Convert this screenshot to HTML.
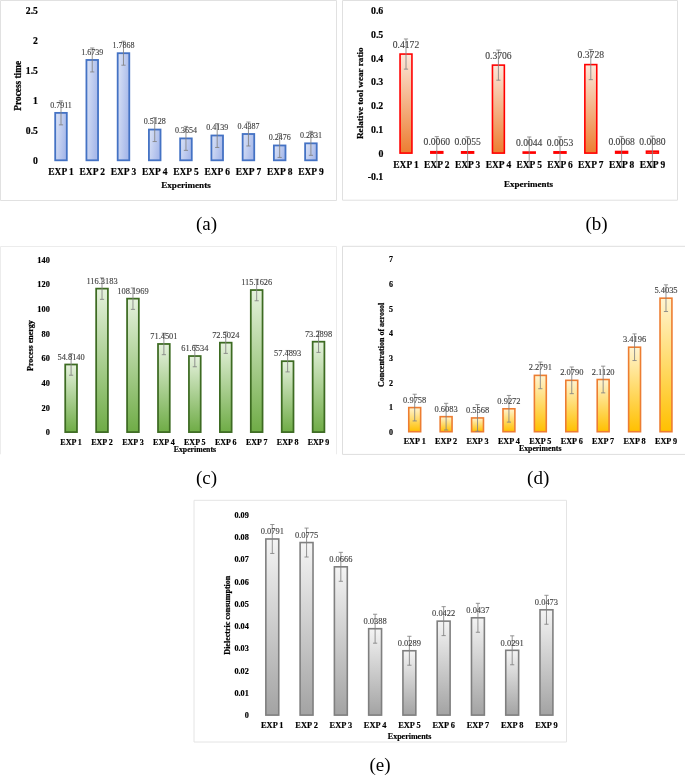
<!DOCTYPE html>
<html lang="en"><head><meta charset="utf-8"><title>Figure</title>
<style>
html,body{margin:0;padding:0;background:#fff;}
svg{display:block;will-change:transform;}
text{font-family:"Liberation Serif", "DejaVu Serif", serif;}
.b{font-weight:bold;fill:#000;stroke:#000;stroke-width:0.18px;}
.yt{stroke-width:0.22px;}
.dl{fill:#404040;stroke:#404040;stroke-width:0.12px;}
.cap{fill:#000;}
</style></head>
<body>
<svg width="685" height="775" viewBox="0 0 685 775">
<rect x="0" y="0" width="685" height="775" fill="#ffffff"/>
<defs>
<linearGradient id="ga" x1="0" y1="0" x2="1" y2="0.35"><stop offset="0" stop-color="#dce4f6"/><stop offset="1" stop-color="#a9baea"/></linearGradient>
<linearGradient id="gb" x1="0" y1="0" x2="0" y2="1"><stop offset="0" stop-color="#fbe7da"/><stop offset="1" stop-color="#ed7d31"/></linearGradient>
<linearGradient id="gc" x1="0" y1="0" x2="0" y2="1"><stop offset="0" stop-color="#e6f2de"/><stop offset="1" stop-color="#6fac46"/></linearGradient>
<linearGradient id="gd" x1="0" y1="0" x2="0" y2="1"><stop offset="0" stop-color="#fff4d1"/><stop offset="1" stop-color="#ffc000"/></linearGradient>
<linearGradient id="ge" x1="0" y1="0" x2="0" y2="1"><stop offset="0" stop-color="#f4f4f4"/><stop offset="1" stop-color="#a3a3a3"/></linearGradient>
</defs>
<g id="chart-a">
<path d="M0.5 200.5 L0.5 0.5 L336.5 0.5 L336.5 200.5 Z" fill="none" stroke="#e1e1e1" stroke-width="1"/>
<text class="b" x="37.9" y="163.9" font-size="9.7" text-anchor="end">0</text>
<text class="b" x="37.9" y="133.93" font-size="9.7" text-anchor="end">0.5</text>
<text class="b" x="37.9" y="103.96" font-size="9.7" text-anchor="end">1</text>
<text class="b" x="37.9" y="73.99" font-size="9.7" text-anchor="end">1.5</text>
<text class="b" x="37.9" y="44.02" font-size="9.7" text-anchor="end">2</text>
<text class="b" x="37.9" y="14.05" font-size="9.7" text-anchor="end">2.5</text>
<text class="b yt" font-size="9.3" text-anchor="middle" transform="translate(20.6 85.8) rotate(-90)">Process time</text>
<rect x="55.2" y="112.88" width="11.6" height="47.42" fill="url(#ga)" stroke="#4472c4" stroke-width="1.8"/>
<rect x="86.44" y="59.97" width="11.6" height="100.33" fill="url(#ga)" stroke="#4472c4" stroke-width="1.8"/>
<rect x="117.68" y="53.2" width="11.6" height="107.1" fill="url(#ga)" stroke="#4472c4" stroke-width="1.8"/>
<rect x="148.92" y="129.56" width="11.6" height="30.74" fill="url(#ga)" stroke="#4472c4" stroke-width="1.8"/>
<rect x="180.16" y="138.4" width="11.6" height="21.9" fill="url(#ga)" stroke="#4472c4" stroke-width="1.8"/>
<rect x="211.4" y="135.49" width="11.6" height="24.81" fill="url(#ga)" stroke="#4472c4" stroke-width="1.8"/>
<rect x="242.64" y="134" width="11.6" height="26.3" fill="url(#ga)" stroke="#4472c4" stroke-width="1.8"/>
<rect x="273.88" y="145.46" width="11.6" height="14.84" fill="url(#ga)" stroke="#4472c4" stroke-width="1.8"/>
<rect x="305.12" y="143.33" width="11.6" height="16.97" fill="url(#ga)" stroke="#4472c4" stroke-width="1.8"/>
<path d="M61 100.89 V124.87 M58.9 100.89 H63.1 M58.9 124.87 H63.1" fill="none" stroke="#828282" stroke-width="0.85"/>
<path d="M92.24 47.98 V71.95 M90.14 47.98 H94.34 M90.14 71.95 H94.34" fill="none" stroke="#828282" stroke-width="0.85"/>
<path d="M123.48 41.21 V65.19 M121.38 41.21 H125.58 M121.38 65.19 H125.58" fill="none" stroke="#828282" stroke-width="0.85"/>
<path d="M154.72 117.57 V141.55 M152.62 117.57 H156.82 M152.62 141.55 H156.82" fill="none" stroke="#828282" stroke-width="0.85"/>
<path d="M185.96 126.41 V150.39 M183.86 126.41 H188.06 M183.86 150.39 H188.06" fill="none" stroke="#828282" stroke-width="0.85"/>
<path d="M217.2 123.5 V147.48 M215.1 123.5 H219.3 M215.1 147.48 H219.3" fill="none" stroke="#828282" stroke-width="0.85"/>
<path d="M248.44 122.02 V145.99 M246.34 122.02 H250.54 M246.34 145.99 H250.54" fill="none" stroke="#828282" stroke-width="0.85"/>
<path d="M279.68 133.47 V157.45 M277.58 133.47 H281.78 M277.58 157.45 H281.78" fill="none" stroke="#828282" stroke-width="0.85"/>
<path d="M310.92 131.34 V155.32 M308.82 131.34 H313.02 M308.82 155.32 H313.02" fill="none" stroke="#828282" stroke-width="0.85"/>
<text class="dl" x="61" y="107.52" font-size="8" text-anchor="middle">0.7911</text>
<text class="dl" x="92.24" y="54.61" font-size="8" text-anchor="middle">1.6739</text>
<text class="dl" x="123.48" y="47.84" font-size="8" text-anchor="middle">1.7868</text>
<text class="dl" x="154.72" y="124.2" font-size="8" text-anchor="middle">0.5128</text>
<text class="dl" x="185.96" y="133.04" font-size="8" text-anchor="middle">0.3654</text>
<text class="dl" x="217.2" y="130.13" font-size="8" text-anchor="middle">0.4139</text>
<text class="dl" x="248.44" y="128.64" font-size="8" text-anchor="middle">0.4387</text>
<text class="dl" x="279.68" y="140.1" font-size="8" text-anchor="middle">0.2476</text>
<text class="dl" x="310.92" y="137.97" font-size="8" text-anchor="middle">0.2831</text>
<text class="b" x="61" y="174.62" font-size="9.45" text-anchor="middle">EXP 1</text>
<text class="b" x="92.24" y="174.62" font-size="9.45" text-anchor="middle">EXP 2</text>
<text class="b" x="123.48" y="174.62" font-size="9.45" text-anchor="middle">EXP 3</text>
<text class="b" x="154.72" y="174.62" font-size="9.45" text-anchor="middle">EXP 4</text>
<text class="b" x="185.96" y="174.62" font-size="9.45" text-anchor="middle">EXP 5</text>
<text class="b" x="217.2" y="174.62" font-size="9.45" text-anchor="middle">EXP 6</text>
<text class="b" x="248.44" y="174.62" font-size="9.45" text-anchor="middle">EXP 7</text>
<text class="b" x="279.68" y="174.62" font-size="9.45" text-anchor="middle">EXP 8</text>
<text class="b" x="310.92" y="174.62" font-size="9.45" text-anchor="middle">EXP 9</text>
<text class="b" x="186" y="187.69" font-size="9.1" text-anchor="middle">Experiments</text>
<text class="cap" x="206.5" y="230.2" font-size="19" text-anchor="middle">(a)</text>
</g>
<g id="chart-b">
<path d="M342.5 200.2 L342.5 0.5 L677.5 0.5 L677.5 200.2 Z" fill="none" stroke="#e0e0e0" stroke-width="1"/>
<text class="b" x="383.3" y="180.29" font-size="9.85" text-anchor="end">-0.1</text>
<text class="b" x="383.3" y="156.55" font-size="9.85" text-anchor="end">0</text>
<text class="b" x="383.3" y="132.81" font-size="9.85" text-anchor="end">0.1</text>
<text class="b" x="383.3" y="109.07" font-size="9.85" text-anchor="end">0.2</text>
<text class="b" x="383.3" y="85.33" font-size="9.85" text-anchor="end">0.3</text>
<text class="b" x="383.3" y="61.59" font-size="9.85" text-anchor="end">0.4</text>
<text class="b" x="383.3" y="37.85" font-size="9.85" text-anchor="end">0.5</text>
<text class="b" x="383.3" y="14.11" font-size="9.85" text-anchor="end">0.6</text>
<text class="b yt" font-size="9.17" text-anchor="middle" transform="translate(363.07 93.2) rotate(-90)">Relative tool wear ratio</text>
<rect x="400.05" y="54.06" width="11.9" height="99.04" fill="url(#gb)" stroke="#ff0000" stroke-width="1.6"/>
<rect x="430.85" y="151.68" width="11.9" height="1.42" fill="url(#gb)" stroke="#ff0000" stroke-width="1.6"/>
<rect x="461.65" y="151.79" width="11.9" height="1.31" fill="url(#gb)" stroke="#ff0000" stroke-width="1.6"/>
<rect x="492.45" y="65.12" width="11.9" height="87.98" fill="url(#gb)" stroke="#ff0000" stroke-width="1.6"/>
<rect x="523.25" y="152.06" width="11.9" height="1.04" fill="url(#gb)" stroke="#ff0000" stroke-width="1.6"/>
<rect x="554.05" y="151.84" width="11.9" height="1.26" fill="url(#gb)" stroke="#ff0000" stroke-width="1.6"/>
<rect x="584.85" y="64.6" width="11.9" height="88.5" fill="url(#gb)" stroke="#ff0000" stroke-width="1.6"/>
<rect x="615.65" y="151.49" width="11.9" height="1.61" fill="url(#gb)" stroke="#ff0000" stroke-width="1.6"/>
<rect x="646.45" y="151.2" width="11.9" height="1.9" fill="url(#gb)" stroke="#ff0000" stroke-width="1.6"/>
<path d="M406 38.98 V69.13 M403.9 38.98 H408.1 M403.9 69.13 H408.1" fill="none" stroke="#828282" stroke-width="0.85"/>
<path d="M436.8 136.6 V166.75 M434.7 136.6 H438.9 M434.7 166.75 H438.9" fill="none" stroke="#828282" stroke-width="0.85"/>
<path d="M467.6 136.72 V166.87 M465.5 136.72 H469.7 M465.5 166.87 H469.7" fill="none" stroke="#828282" stroke-width="0.85"/>
<path d="M498.4 50.04 V80.19 M496.3 50.04 H500.5 M496.3 80.19 H500.5" fill="none" stroke="#828282" stroke-width="0.85"/>
<path d="M529.2 136.98 V167.13 M527.1 136.98 H531.3 M527.1 167.13 H531.3" fill="none" stroke="#828282" stroke-width="0.85"/>
<path d="M560 136.77 V166.92 M557.9 136.77 H562.1 M557.9 166.92 H562.1" fill="none" stroke="#828282" stroke-width="0.85"/>
<path d="M590.8 49.52 V79.67 M588.7 49.52 H592.9 M588.7 79.67 H592.9" fill="none" stroke="#828282" stroke-width="0.85"/>
<path d="M621.6 136.41 V166.56 M619.5 136.41 H623.7 M619.5 166.56 H623.7" fill="none" stroke="#828282" stroke-width="0.85"/>
<path d="M652.4 136.13 V166.28 M650.3 136.13 H654.5 M650.3 166.28 H654.5" fill="none" stroke="#828282" stroke-width="0.85"/>
<text class="dl" x="406" y="47.72" font-size="9.6" text-anchor="middle">0.4172</text>
<text class="dl" x="436.8" y="145.34" font-size="9.6" text-anchor="middle">0.0060</text>
<text class="dl" x="467.6" y="145.46" font-size="9.6" text-anchor="middle">0.0055</text>
<text class="dl" x="498.4" y="58.79" font-size="9.6" text-anchor="middle">0.3706</text>
<text class="dl" x="529.2" y="145.72" font-size="9.6" text-anchor="middle">0.0044</text>
<text class="dl" x="560" y="145.51" font-size="9.6" text-anchor="middle">0.0053</text>
<text class="dl" x="590.8" y="58.27" font-size="9.6" text-anchor="middle">0.3728</text>
<text class="dl" x="621.6" y="145.15" font-size="9.6" text-anchor="middle">0.0068</text>
<text class="dl" x="652.4" y="144.87" font-size="9.6" text-anchor="middle">0.0080</text>
<text class="b" x="406" y="168.02" font-size="9.45" text-anchor="middle">EXP 1</text>
<text class="b" x="436.8" y="168.02" font-size="9.45" text-anchor="middle">EXP 2</text>
<text class="b" x="467.6" y="168.02" font-size="9.45" text-anchor="middle">EXP 3</text>
<text class="b" x="498.4" y="168.02" font-size="9.45" text-anchor="middle">EXP 4</text>
<text class="b" x="529.2" y="168.02" font-size="9.45" text-anchor="middle">EXP 5</text>
<text class="b" x="560" y="168.02" font-size="9.45" text-anchor="middle">EXP 6</text>
<text class="b" x="590.8" y="168.02" font-size="9.45" text-anchor="middle">EXP 7</text>
<text class="b" x="621.6" y="168.02" font-size="9.45" text-anchor="middle">EXP 8</text>
<text class="b" x="652.4" y="168.02" font-size="9.45" text-anchor="middle">EXP 9</text>
<text class="b" x="528.5" y="186.57" font-size="9.0" text-anchor="middle">Experiments</text>
<text class="cap" x="596.5" y="230.2" font-size="19" text-anchor="middle">(b)</text>
</g>
<g id="chart-c">
<path d="M0.5 454.3 L0.5 246.5 L336.5 246.5 L336.5 454.3" fill="none" stroke="#ececec" stroke-width="1"/>
<text class="b" x="49.8" y="435.24" font-size="8.3" text-anchor="end">0</text>
<text class="b" x="49.8" y="410.57" font-size="8.3" text-anchor="end">20</text>
<text class="b" x="49.8" y="385.9" font-size="8.3" text-anchor="end">40</text>
<text class="b" x="49.8" y="361.23" font-size="8.3" text-anchor="end">60</text>
<text class="b" x="49.8" y="336.56" font-size="8.3" text-anchor="end">80</text>
<text class="b" x="49.8" y="311.89" font-size="8.3" text-anchor="end">100</text>
<text class="b" x="49.8" y="287.22" font-size="8.3" text-anchor="end">120</text>
<text class="b" x="49.8" y="262.55" font-size="8.3" text-anchor="end">140</text>
<text class="b yt" font-size="8" text-anchor="middle" transform="translate(33.14 345.6) rotate(-90)">Process energy</text>
<rect x="65.22" y="364.49" width="11.75" height="67.61" fill="url(#gc)" stroke="#3d6b22" stroke-width="1.75"/>
<rect x="96.16" y="288.62" width="11.75" height="143.48" fill="url(#gc)" stroke="#3d6b22" stroke-width="1.75"/>
<rect x="127.08" y="298.64" width="11.75" height="133.46" fill="url(#gc)" stroke="#3d6b22" stroke-width="1.75"/>
<rect x="158.01" y="343.97" width="11.75" height="88.13" fill="url(#gc)" stroke="#3d6b22" stroke-width="1.75"/>
<rect x="188.94" y="356.05" width="11.75" height="76.05" fill="url(#gc)" stroke="#3d6b22" stroke-width="1.75"/>
<rect x="219.88" y="342.67" width="11.75" height="89.43" fill="url(#gc)" stroke="#3d6b22" stroke-width="1.75"/>
<rect x="250.8" y="290.05" width="11.75" height="142.05" fill="url(#gc)" stroke="#3d6b22" stroke-width="1.75"/>
<rect x="281.74" y="361.19" width="11.75" height="70.91" fill="url(#gc)" stroke="#3d6b22" stroke-width="1.75"/>
<rect x="312.66" y="341.7" width="11.75" height="90.4" fill="url(#gc)" stroke="#3d6b22" stroke-width="1.75"/>
<path d="M71.1 353.76 V375.22 M69 353.76 H73.2 M69 375.22 H73.2" fill="none" stroke="#828282" stroke-width="0.85"/>
<path d="M102.03 277.89 V299.35 M99.93 277.89 H104.13 M99.93 299.35 H104.13" fill="none" stroke="#828282" stroke-width="0.85"/>
<path d="M132.96 287.91 V309.37 M130.86 287.91 H135.06 M130.86 309.37 H135.06" fill="none" stroke="#828282" stroke-width="0.85"/>
<path d="M163.89 333.23 V354.7 M161.79 333.23 H165.99 M161.79 354.7 H165.99" fill="none" stroke="#828282" stroke-width="0.85"/>
<path d="M194.82 345.32 V366.78 M192.72 345.32 H196.92 M192.72 366.78 H196.92" fill="none" stroke="#828282" stroke-width="0.85"/>
<path d="M225.75 331.94 V353.4 M223.65 331.94 H227.85 M223.65 353.4 H227.85" fill="none" stroke="#828282" stroke-width="0.85"/>
<path d="M256.68 279.32 V300.78 M254.58 279.32 H258.78 M254.58 300.78 H258.78" fill="none" stroke="#828282" stroke-width="0.85"/>
<path d="M287.61 350.46 V371.92 M285.51 350.46 H289.71 M285.51 371.92 H289.71" fill="none" stroke="#828282" stroke-width="0.85"/>
<path d="M318.54 330.97 V352.43 M316.44 330.97 H320.64 M316.44 352.43 H320.64" fill="none" stroke="#828282" stroke-width="0.85"/>
<text class="dl" x="71.1" y="359.66" font-size="8.4" text-anchor="middle">54.8140</text>
<text class="dl" x="102.03" y="283.79" font-size="8.4" text-anchor="middle">116.3183</text>
<text class="dl" x="132.96" y="293.81" font-size="8.4" text-anchor="middle">108.1969</text>
<text class="dl" x="163.89" y="339.14" font-size="8.4" text-anchor="middle">71.4501</text>
<text class="dl" x="194.82" y="351.22" font-size="8.4" text-anchor="middle">61.6534</text>
<text class="dl" x="225.75" y="337.84" font-size="8.4" text-anchor="middle">72.5024</text>
<text class="dl" x="256.68" y="285.22" font-size="8.4" text-anchor="middle">115.1626</text>
<text class="dl" x="287.61" y="356.36" font-size="8.4" text-anchor="middle">57.4893</text>
<text class="dl" x="318.54" y="336.87" font-size="8.4" text-anchor="middle">73.2898</text>
<text class="b" x="71.1" y="445.34" font-size="8" text-anchor="middle">EXP 1</text>
<text class="b" x="102.03" y="445.34" font-size="8" text-anchor="middle">EXP 2</text>
<text class="b" x="132.96" y="445.34" font-size="8" text-anchor="middle">EXP 3</text>
<text class="b" x="163.89" y="445.34" font-size="8" text-anchor="middle">EXP 4</text>
<text class="b" x="194.82" y="445.34" font-size="8" text-anchor="middle">EXP 5</text>
<text class="b" x="225.75" y="445.34" font-size="8" text-anchor="middle">EXP 6</text>
<text class="b" x="256.68" y="445.34" font-size="8" text-anchor="middle">EXP 7</text>
<text class="b" x="287.61" y="445.34" font-size="8" text-anchor="middle">EXP 8</text>
<text class="b" x="318.54" y="445.34" font-size="8" text-anchor="middle">EXP 9</text>
<text class="b" x="194.9" y="452.48" font-size="7.75" text-anchor="middle">Experiments</text>
<text class="cap" x="206.5" y="484" font-size="19" text-anchor="middle">(c)</text>
</g>
<g id="chart-d">
<path d="M342.5 454.4 L342.5 246.3 L690 246.3 M690 454.4 L342.5 454.4" fill="none" stroke="#dedede" stroke-width="1"/>
<text class="b" x="392.9" y="435.14" font-size="8" text-anchor="end">0</text>
<text class="b" x="392.9" y="410.43" font-size="8" text-anchor="end">1</text>
<text class="b" x="392.9" y="385.72" font-size="8" text-anchor="end">2</text>
<text class="b" x="392.9" y="361.01" font-size="8" text-anchor="end">3</text>
<text class="b" x="392.9" y="336.3" font-size="8" text-anchor="end">4</text>
<text class="b" x="392.9" y="311.59" font-size="8" text-anchor="end">5</text>
<text class="b" x="392.9" y="286.88" font-size="8" text-anchor="end">6</text>
<text class="b" x="392.9" y="262.17" font-size="8" text-anchor="end">7</text>
<text class="b yt" font-size="8" text-anchor="middle" transform="translate(384.14 344.8) rotate(-90)">Concentration of aerosol</text>
<rect x="408.75" y="407.59" width="11.9" height="24.11" fill="url(#gd)" stroke="#ed7d31" stroke-width="1.6"/>
<rect x="440.16" y="416.67" width="11.9" height="15.03" fill="url(#gd)" stroke="#ed7d31" stroke-width="1.6"/>
<rect x="471.57" y="417.94" width="11.9" height="13.76" fill="url(#gd)" stroke="#ed7d31" stroke-width="1.6"/>
<rect x="502.98" y="408.79" width="11.9" height="22.91" fill="url(#gd)" stroke="#ed7d31" stroke-width="1.6"/>
<rect x="534.39" y="375.38" width="11.9" height="56.32" fill="url(#gd)" stroke="#ed7d31" stroke-width="1.6"/>
<rect x="565.8" y="380.33" width="11.9" height="51.37" fill="url(#gd)" stroke="#ed7d31" stroke-width="1.6"/>
<rect x="597.21" y="379.51" width="11.9" height="52.19" fill="url(#gd)" stroke="#ed7d31" stroke-width="1.6"/>
<rect x="628.62" y="347.2" width="11.9" height="84.5" fill="url(#gd)" stroke="#ed7d31" stroke-width="1.6"/>
<rect x="660.03" y="298.18" width="11.9" height="133.52" fill="url(#gd)" stroke="#ed7d31" stroke-width="1.6"/>
<path d="M414.7 394.24 V420.93 M412.6 394.24 H416.8 M412.6 420.93 H416.8" fill="none" stroke="#828282" stroke-width="0.85"/>
<path d="M446.11 403.33 V430.01 M444.01 403.33 H448.21 M444.01 430.01 H448.21" fill="none" stroke="#828282" stroke-width="0.85"/>
<path d="M477.52 404.6 V431.28 M475.42 404.6 H479.62 M475.42 431.28 H479.62" fill="none" stroke="#828282" stroke-width="0.85"/>
<path d="M508.93 395.45 V422.13 M506.83 395.45 H511.03 M506.83 422.13 H511.03" fill="none" stroke="#828282" stroke-width="0.85"/>
<path d="M540.34 362.04 V388.73 M538.24 362.04 H542.44 M538.24 388.73 H542.44" fill="none" stroke="#828282" stroke-width="0.85"/>
<path d="M571.75 366.98 V393.67 M569.65 366.98 H573.85 M569.65 393.67 H573.85" fill="none" stroke="#828282" stroke-width="0.85"/>
<path d="M603.16 366.17 V392.86 M601.06 366.17 H605.26 M601.06 392.86 H605.26" fill="none" stroke="#828282" stroke-width="0.85"/>
<path d="M634.57 333.86 V360.55 M632.47 333.86 H636.67 M632.47 360.55 H636.67" fill="none" stroke="#828282" stroke-width="0.85"/>
<path d="M665.98 284.84 V311.52 M663.88 284.84 H668.08 M663.88 311.52 H668.08" fill="none" stroke="#828282" stroke-width="0.85"/>
<text class="dl" x="414.7" y="402.68" font-size="8.45" text-anchor="middle">0.9758</text>
<text class="dl" x="446.11" y="411.76" font-size="8.45" text-anchor="middle">0.6083</text>
<text class="dl" x="477.52" y="413.03" font-size="8.45" text-anchor="middle">0.5568</text>
<text class="dl" x="508.93" y="403.88" font-size="8.45" text-anchor="middle">0.9272</text>
<text class="dl" x="540.34" y="370.47" font-size="8.45" text-anchor="middle">2.2791</text>
<text class="dl" x="571.75" y="375.42" font-size="8.45" text-anchor="middle">2.0790</text>
<text class="dl" x="603.16" y="374.6" font-size="8.45" text-anchor="middle">2.1120</text>
<text class="dl" x="634.57" y="342.29" font-size="8.45" text-anchor="middle">3.4196</text>
<text class="dl" x="665.98" y="293.27" font-size="8.45" text-anchor="middle">5.4035</text>
<text class="b" x="414.7" y="444.11" font-size="8.2" text-anchor="middle">EXP 1</text>
<text class="b" x="446.11" y="444.11" font-size="8.2" text-anchor="middle">EXP 2</text>
<text class="b" x="477.52" y="444.11" font-size="8.2" text-anchor="middle">EXP 3</text>
<text class="b" x="508.93" y="444.11" font-size="8.2" text-anchor="middle">EXP 4</text>
<text class="b" x="540.34" y="444.11" font-size="8.2" text-anchor="middle">EXP 5</text>
<text class="b" x="571.75" y="444.11" font-size="8.2" text-anchor="middle">EXP 6</text>
<text class="b" x="603.16" y="444.11" font-size="8.2" text-anchor="middle">EXP 7</text>
<text class="b" x="634.57" y="444.11" font-size="8.2" text-anchor="middle">EXP 8</text>
<text class="b" x="665.98" y="444.11" font-size="8.2" text-anchor="middle">EXP 9</text>
<text class="b" x="540.2" y="451.29" font-size="7.8" text-anchor="middle">Experiments</text>
<text class="cap" x="538.2" y="484" font-size="19" text-anchor="middle">(d)</text>
</g>
<g id="chart-e">
<path d="M194 742 L194 500.3 L566.5 500.3 L566.5 742 Z" fill="none" stroke="#e4e4e4" stroke-width="1"/>
<text class="b" x="248.8" y="718.21" font-size="8.2" text-anchor="end">0</text>
<text class="b" x="248.8" y="695.94" font-size="8.2" text-anchor="end">0.01</text>
<text class="b" x="248.8" y="673.68" font-size="8.2" text-anchor="end">0.02</text>
<text class="b" x="248.8" y="651.41" font-size="8.2" text-anchor="end">0.03</text>
<text class="b" x="248.8" y="629.15" font-size="8.2" text-anchor="end">0.04</text>
<text class="b" x="248.8" y="606.88" font-size="8.2" text-anchor="end">0.05</text>
<text class="b" x="248.8" y="584.62" font-size="8.2" text-anchor="end">0.06</text>
<text class="b" x="248.8" y="562.35" font-size="8.2" text-anchor="end">0.07</text>
<text class="b" x="248.8" y="540.09" font-size="8.2" text-anchor="end">0.08</text>
<text class="b" x="248.8" y="517.82" font-size="8.2" text-anchor="end">0.09</text>
<text class="b yt" font-size="8" text-anchor="middle" transform="translate(229.64 615.2) rotate(-90)">Dielectric consumption</text>
<rect x="265.85" y="538.98" width="12.9" height="176.12" fill="url(#ge)" stroke="#7f7f7f" stroke-width="1.6"/>
<rect x="300.12" y="542.55" width="12.9" height="172.55" fill="url(#ge)" stroke="#7f7f7f" stroke-width="1.6"/>
<rect x="334.39" y="566.82" width="12.9" height="148.28" fill="url(#ge)" stroke="#7f7f7f" stroke-width="1.6"/>
<rect x="368.66" y="628.71" width="12.9" height="86.39" fill="url(#ge)" stroke="#7f7f7f" stroke-width="1.6"/>
<rect x="402.93" y="650.75" width="12.9" height="64.35" fill="url(#ge)" stroke="#7f7f7f" stroke-width="1.6"/>
<rect x="437.2" y="621.14" width="12.9" height="93.96" fill="url(#ge)" stroke="#7f7f7f" stroke-width="1.6"/>
<rect x="471.47" y="617.8" width="12.9" height="97.3" fill="url(#ge)" stroke="#7f7f7f" stroke-width="1.6"/>
<rect x="505.74" y="650.31" width="12.9" height="64.79" fill="url(#ge)" stroke="#7f7f7f" stroke-width="1.6"/>
<rect x="540.01" y="609.79" width="12.9" height="105.31" fill="url(#ge)" stroke="#7f7f7f" stroke-width="1.6"/>
<path d="M272.3 524.51 V553.46 M270.2 524.51 H274.4 M270.2 553.46 H274.4" fill="none" stroke="#828282" stroke-width="0.85"/>
<path d="M306.57 528.07 V557.02 M304.47 528.07 H308.67 M304.47 557.02 H308.67" fill="none" stroke="#828282" stroke-width="0.85"/>
<path d="M340.84 552.34 V581.29 M338.74 552.34 H342.94 M338.74 581.29 H342.94" fill="none" stroke="#828282" stroke-width="0.85"/>
<path d="M375.11 614.24 V643.18 M373.01 614.24 H377.21 M373.01 643.18 H377.21" fill="none" stroke="#828282" stroke-width="0.85"/>
<path d="M409.38 636.28 V665.23 M407.28 636.28 H411.48 M407.28 665.23 H411.48" fill="none" stroke="#828282" stroke-width="0.85"/>
<path d="M443.65 606.67 V635.61 M441.55 606.67 H445.75 M441.55 635.61 H445.75" fill="none" stroke="#828282" stroke-width="0.85"/>
<path d="M477.92 603.33 V632.27 M475.82 603.33 H480.02 M475.82 632.27 H480.02" fill="none" stroke="#828282" stroke-width="0.85"/>
<path d="M512.19 635.84 V664.78 M510.09 635.84 H514.29 M510.09 664.78 H514.29" fill="none" stroke="#828282" stroke-width="0.85"/>
<path d="M546.46 595.31 V624.26 M544.36 595.31 H548.56 M544.36 624.26 H548.56" fill="none" stroke="#828282" stroke-width="0.85"/>
<text class="dl" x="272.3" y="534.17" font-size="8.45" text-anchor="middle">0.0791</text>
<text class="dl" x="306.57" y="537.73" font-size="8.45" text-anchor="middle">0.0775</text>
<text class="dl" x="340.84" y="562" font-size="8.45" text-anchor="middle">0.0666</text>
<text class="dl" x="375.11" y="623.9" font-size="8.45" text-anchor="middle">0.0388</text>
<text class="dl" x="409.38" y="645.94" font-size="8.45" text-anchor="middle">0.0289</text>
<text class="dl" x="443.65" y="616.33" font-size="8.45" text-anchor="middle">0.0422</text>
<text class="dl" x="477.92" y="612.99" font-size="8.45" text-anchor="middle">0.0437</text>
<text class="dl" x="512.19" y="645.5" font-size="8.45" text-anchor="middle">0.0291</text>
<text class="dl" x="546.46" y="604.98" font-size="8.45" text-anchor="middle">0.0473</text>
<text class="b" x="272.3" y="728.46" font-size="8.35" text-anchor="middle">EXP 1</text>
<text class="b" x="306.57" y="728.46" font-size="8.35" text-anchor="middle">EXP 2</text>
<text class="b" x="340.84" y="728.46" font-size="8.35" text-anchor="middle">EXP 3</text>
<text class="b" x="375.11" y="728.46" font-size="8.35" text-anchor="middle">EXP 4</text>
<text class="b" x="409.38" y="728.46" font-size="8.35" text-anchor="middle">EXP 5</text>
<text class="b" x="443.65" y="728.46" font-size="8.35" text-anchor="middle">EXP 6</text>
<text class="b" x="477.92" y="728.46" font-size="8.35" text-anchor="middle">EXP 7</text>
<text class="b" x="512.19" y="728.46" font-size="8.35" text-anchor="middle">EXP 8</text>
<text class="b" x="546.46" y="728.46" font-size="8.35" text-anchor="middle">EXP 9</text>
<text class="b" x="409.6" y="738.54" font-size="8" text-anchor="middle">Experiments</text>
<text class="cap" x="380" y="771.1" font-size="19" text-anchor="middle">(e)</text>
</g>
</svg>
</body></html>
